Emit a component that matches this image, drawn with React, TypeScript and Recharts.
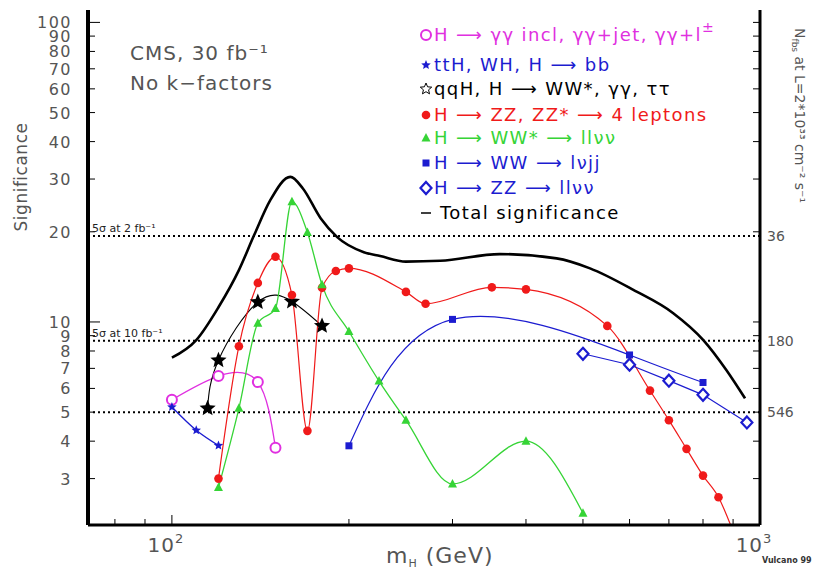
import { Legend, Line, LineChart, ReferenceLine, XAxis, YAxis } from "recharts";

// H -> gamma gamma (incl, +jet, +lepton)
const gammaMass = [100, 120, 140, 150];
const gammaSig = [5.5, 6.6, 6.3, 3.8];

// ttH, WH, H -> bb
const bbMass = [100, 110, 120];
const bbSig = [5.2, 4.35, 3.87];

// qqH, H -> WW*, gamma gamma, tau tau
const qqhMass = [115, 120, 140, 160, 180];
const qqhSig = [5.15, 7.45, 11.65, 11.7, 9.7];

// H -> ZZ, ZZ* -> 4 leptons
const zz4lMass = [120, 130, 140, 150, 160, 170, 180, 190, 200, 250, 270, 350, 400, 550, 650, 700, 750, 800, 850, 900];
const zz4lSig = [3.0, 8.3, 13.5, 16.5, 12.3, 4.33, 13.0, 14.8, 15.1, 12.6, 11.5, 13.05, 12.85, 9.7, 5.9, 4.7, 3.77, 3.07, 2.6, 2.0];

// H -> WW* -> l l nu nu
const wwllMass = [120, 130, 140, 150, 160, 170, 180, 200, 225, 250, 300, 400, 500];
const wwllSig = [2.8, 5.15, 9.9, 11.1, 25.2, 19.9, 13.3, 9.3, 6.35, 4.7, 2.88, 4.0, 2.3];

// H -> WW -> l nu j j
const wwjjMass = [200, 300, 600, 800];
const wwjjSig = [3.86, 10.2, 7.76, 6.28];

// H -> ZZ -> l l nu nu
const zzllMass = [500, 600, 700, 800, 950];
const zzllSig = [7.83, 7.2, 6.37, 5.71, 4.62];

// total significance
const totalMass = [100, 110, 120, 130, 138, 147, 159, 167, 179, 191, 212, 226, 250, 286, 361, 451, 514, 609, 712, 801, 877, 943];
const totalSig = [7.6, 8.7, 11.2, 14.9, 19.5, 25.5, 30.5, 27.9, 22.2, 19.2, 17.1, 16.6, 15.9, 16.0, 16.85, 16.3, 15.1, 12.8, 10.7, 8.7, 6.9, 5.56];

const xTicks = [80, 90, 100, 200, 300, 400, 500, 600, 700, 800, 900, 1000];
const yTicks = [3, 4, 5, 6, 7, 8, 9, 10, 20, 30, 40, 50, 60, 70, 80, 90, 100];
const discoverySig = [19.36, 8.66, 5];
const discoveryDays = ["36", "180", "546"];
const discoveryLabels = ["5σ at 2 fb⁻¹", "5σ at 10 fb⁻¹", ""];

const legendLabels = [
  "H ⟶ γγ incl, γγ+jet, γγ+l",
  "ttH, WH, H ⟶ bb",
  "qqH, H ⟶ WW*, γγ, ττ",
  "H ⟶ ZZ, ZZ* ⟶ 4 leptons",
  "H ⟶ WW* ⟶ llνν",
  "H ⟶ WW ⟶ lνjj",
  "H ⟶ ZZ ⟶ llνν",
  "Total significance",
];

const X_DOMAIN: [number, number] = [72, 1000];
const Y_DOMAIN: [number, number] = [2.1, 110];

const MAGENTA = "#e030e0";
const BLUE = "#1c1cd0";
const RED = "#f01a1a";
const GREEN = "#36d436";
const BLACK = "#000";
const GREY = "#555";
const FONT = "'DejaVu Sans', sans-serif";

const toPoints = (ms: number[], ss: number[]) => ms.map((m, i) => ({ m, s: ss[i] }));

const starPoints = (cx: number, cy: number, R: number) => {
  const pts: string[] = [];
  for (let i = 0; i < 10; i++) {
    const rad = i % 2 === 0 ? R : R * 0.45;
    const a = -Math.PI / 2 + (i * Math.PI) / 5;
    pts.push(`${cx + rad * Math.cos(a)},${cy + rad * Math.sin(a)}`);
  }
  return pts.join(" ");
};

const Marker = ({ kind, cx, cy, color }: any) => {
  switch (kind) {
    case "ocircle":
      return <circle cx={cx} cy={cy} r={5} fill="#fff" stroke={color} strokeWidth={2} />;
    case "star":
      return <polygon points={starPoints(cx, cy, 5)} fill={color} />;
    case "bigstar":
      return <polygon points={starPoints(cx, cy, 8.5)} fill={color} />;
    case "ostar":
      return <polygon points={starPoints(cx, cy, 6)} fill="#fff" stroke={color} strokeWidth={1} />;
    case "dot":
      return <circle cx={cx} cy={cy} r={4.3} fill={color} />;
    case "tri":
      return <polygon points={`${cx},${cy - 5} ${cx - 4.5},${cy + 3.5} ${cx + 4.5},${cy + 3.5}`} fill={color} />;
    case "square":
      return <rect x={cx - 3.5} y={cy - 3.5} width={7} height={7} fill={color} />;
    case "diamond":
      return (
        <polygon
          points={`${cx},${cy - 6} ${cx + 5.5},${cy} ${cx},${cy + 6} ${cx - 5.5},${cy}`}
          fill="#fff"
          stroke={color}
          strokeWidth={2.2}
        />
      );
    case "dash":
      return <line x1={cx - 5} y1={cy} x2={cx + 5} y2={cy} stroke={color} strokeWidth={1.5} />;
    default:
      return null;
  }
};

const makeDot = (kind: string, color: string) => (props: any) => {
  const { cx, cy, index, payload } = props;
  if (cx == null || cy == null || payload.s < Y_DOMAIN[0]) return <g key={index} />;
  return <Marker key={index} kind={kind} cx={cx} cy={cy} color={color} />;
};

const BottomTick = (props: any) => {
  const { x, y, payload } = props;
  const v = payload.value;
  const major = v === 100 || v === 1000;
  return (
    <g>
      <line x1={x} y1={y} x2={x} y2={y - (major ? 10 : 6)} stroke="#000" />
      {major && (
        <text x={x - 6} y={y + 27} textAnchor="middle" fontSize={20} fill={GREY} fontFamily={FONT} letterSpacing={1}>
          10
          <tspan fontSize={13} dy={-9}>
            {v === 100 ? "2" : "3"}
          </tspan>
        </text>
      )}
    </g>
  );
};

const TopTick = (props: any) => {
  const { x, y, payload } = props;
  const major = payload.value === 100;
  return <line x1={x} y1={y} x2={x} y2={y + (major ? 10 : 6)} stroke="#000" />;
};

const LeftTick = (props: any) => {
  const { x, y, payload } = props;
  const v = payload.value;
  const major = v === 10 || v === 100;
  return (
    <g>
      <line x1={x} y1={y} x2={x + (major ? 12 : 7)} y2={y} stroke="#000" />
      <text x={72} y={y + 6} textAnchor="end" fontSize={16} fill={GREY} fontFamily={FONT} letterSpacing={1.5}>
        {v}
      </text>
    </g>
  );
};

const RightTick = (props: any) => {
  const { x, y, payload } = props;
  const v = payload.value;
  const idx = discoverySig.indexOf(v);
  return (
    <g>
      {yTicks.includes(v) && <line x1={x} y1={y} x2={x - 7} y2={y} stroke="#000" />}
      {idx >= 0 && (
        <text x={x + 7} y={y + 5} fontSize={14} fill={GREY} fontFamily={FONT}>
          {discoveryDays[idx]}
        </text>
      )}
    </g>
  );
};

const legendKinds = ["ocircle", "star", "ostar", "dot", "tri", "square", "diamond", "dash"];
const legendColors = [MAGENTA, BLUE, BLACK, RED, GREEN, BLUE, BLUE, BLACK];
const legendRowY = [17, 47, 71, 97, 120, 145, 170, 195];

const LegendBox = () => (
  <svg width={410} height={210} style={{ display: "block" }}>
    {legendLabels.map((label, i) => (
      <g key={label}>
        <Marker kind={legendKinds[i]} cx={10} cy={legendRowY[i]} color={legendColors[i]} />
        <text
          x={i === 7 ? 24 : 18}
          y={legendRowY[i] + 6}
          fontSize={18}
          letterSpacing={1.4}
          fill={legendColors[i]}
          fontFamily={FONT}
        >
          {label}
          {i === 0 && (
            <tspan fontSize={14} dy={-9}>
              ±
            </tspan>
          )}
        </text>
      </g>
    ))}
  </svg>
);

const series = [
  { name: "gamma", data: toPoints(gammaMass, gammaSig), color: MAGENTA, kind: "ocircle", type: "natural", w: 1.3 },
  { name: "bb", data: toPoints(bbMass, bbSig), color: BLUE, kind: "star", type: "monotone", w: 1.3 },
  { name: "qqh", data: toPoints(qqhMass, qqhSig), color: BLACK, kind: "bigstar", type: "natural", w: 1.1 },
  { name: "zz4l", data: toPoints(zz4lMass, zz4lSig), color: RED, kind: "dot", type: "monotone", w: 1.2 },
  { name: "wwll", data: toPoints(wwllMass, wwllSig), color: GREEN, kind: "tri", type: "monotone", w: 1.3 },
  { name: "wwjj", data: toPoints(wwjjMass, wwjjSig), color: BLUE, kind: "square", type: "natural", w: 1.2 },
  { name: "zzll", data: toPoints(zzllMass, zzllSig), color: BLUE, kind: "diamond", type: "linear", w: 1.2 },
];

const App = () => {
  return (
    <div style={{ position: "absolute", left: 0, top: 0, width: 828, height: 570, background: "#fff" }}>
      <LineChart width={828} height={570} margin={{ top: 10, right: 8, bottom: 0, left: 0 }}>
        <XAxis
          dataKey="m"
          type="number"
          scale="log"
          domain={X_DOMAIN}
          allowDataOverflow
          ticks={xTicks}
          interval={0}
          tick={<BottomTick />}
          tickLine={false}
          tickSize={0}
          tickMargin={0}
          height={45}
          axisLine={{ stroke: "#000", strokeWidth: 3 }}
          label={{
            content: () => (
              <text x={386} y={563} fontSize={22} fill={GREY} fontFamily={FONT} letterSpacing={1}>
                m
                <tspan fontSize={11} dy={4}>
                  H
                </tspan>
                <tspan dy={-4}> (GeV)</tspan>
              </text>
            ),
          }}
        />
        <XAxis
          xAxisId="top"
          orientation="top"
          dataKey="m"
          type="number"
          scale="log"
          domain={X_DOMAIN}
          allowDataOverflow
          ticks={xTicks.slice(0, -1)}
          interval={0}
          tick={<TopTick />}
          tickLine={false}
          tickSize={0}
          tickMargin={0}
          height={0}
          axisLine={{ stroke: "#333", strokeWidth: 3 }}
        />
        <YAxis
          type="number"
          scale="log"
          domain={Y_DOMAIN}
          allowDataOverflow
          ticks={yTicks}
          interval={0}
          tick={<LeftTick />}
          tickLine={false}
          tickSize={0}
          tickMargin={0}
          width={88}
          axisLine={{ stroke: "#000", strokeWidth: 4 }}
          label={{
            content: () => (
              <text
                x={0}
                y={0}
                transform="translate(27,177) rotate(-90)"
                textAnchor="middle"
                fontSize={17}
                fill={GREY}
                fontFamily={FONT}
                letterSpacing={0.5}
              >
                Significance
              </text>
            ),
          }}
        />
        <YAxis
          yAxisId="r"
          orientation="right"
          type="number"
          scale="log"
          domain={Y_DOMAIN}
          allowDataOverflow
          ticks={[...yTicks, 8.66, 19.36].sort((a, b) => a - b)}
          interval={0}
          tick={<RightTick />}
          tickLine={false}
          tickSize={0}
          tickMargin={0}
          width={60}
          axisLine={{ stroke: "#000", strokeWidth: 3 }}
          label={{
            content: () => (
              <text x={0} y={0} transform="translate(795,28) rotate(90)" fontSize={14} fill={GREY} fontFamily={FONT}>
                N
                <tspan fontSize={9} dy={3}>
                  fbs
                </tspan>
                <tspan dy={-3}> at L=2*10³³ cm⁻² s⁻¹</tspan>
              </text>
            ),
          }}
        />
        {discoverySig.map((s, i) => (
          <ReferenceLine
            key={s}
            y={s}
            stroke="#000"
            strokeWidth={2}
            strokeDasharray="2 3"
            label={{
              value: discoveryLabels[i],
              position: "insideBottomLeft",
              offset: 4,
              fontSize: 11,
              fill: "#222",
              fontFamily: FONT,
            }}
          />
        ))}
        <Line
          data={toPoints(totalMass, totalSig)}
          dataKey="s"
          type="monotone"
          stroke={BLACK}
          strokeWidth={2.6}
          dot={false}
          activeDot={false}
          isAnimationActive={false}
        />
        {series.map((sr) => (
          <Line
            key={sr.name}
            data={sr.data}
            dataKey="s"
            type={sr.type as any}
            stroke={sr.color}
            strokeWidth={sr.w}
            dot={makeDot(sr.kind, sr.color)}
            activeDot={false}
            isAnimationActive={false}
          />
        ))}
        <Legend
          content={<LegendBox />}
          layout="vertical"
          align="center"
          verticalAlign="middle"
          wrapperStyle={{ left: 416, top: 18, width: 410 }}
        />
      </LineChart>
      <div
        style={{
          position: "absolute",
          left: 130,
          top: 38,
          fontFamily: FONT,
          fontSize: 20,
          letterSpacing: 1,
          color: GREY,
          lineHeight: "30px",
        }}
      >
        <div>CMS, 30 fb⁻¹</div>
        <div>No k−factors</div>
      </div>
      <div
        style={{
          position: "absolute",
          left: 762,
          top: 556,
          fontFamily: FONT,
          fontSize: 8,
          fontWeight: "bold",
          color: "#333",
        }}
      >
        Vulcano 99
      </div>
    </div>
  );
};

export default App;
